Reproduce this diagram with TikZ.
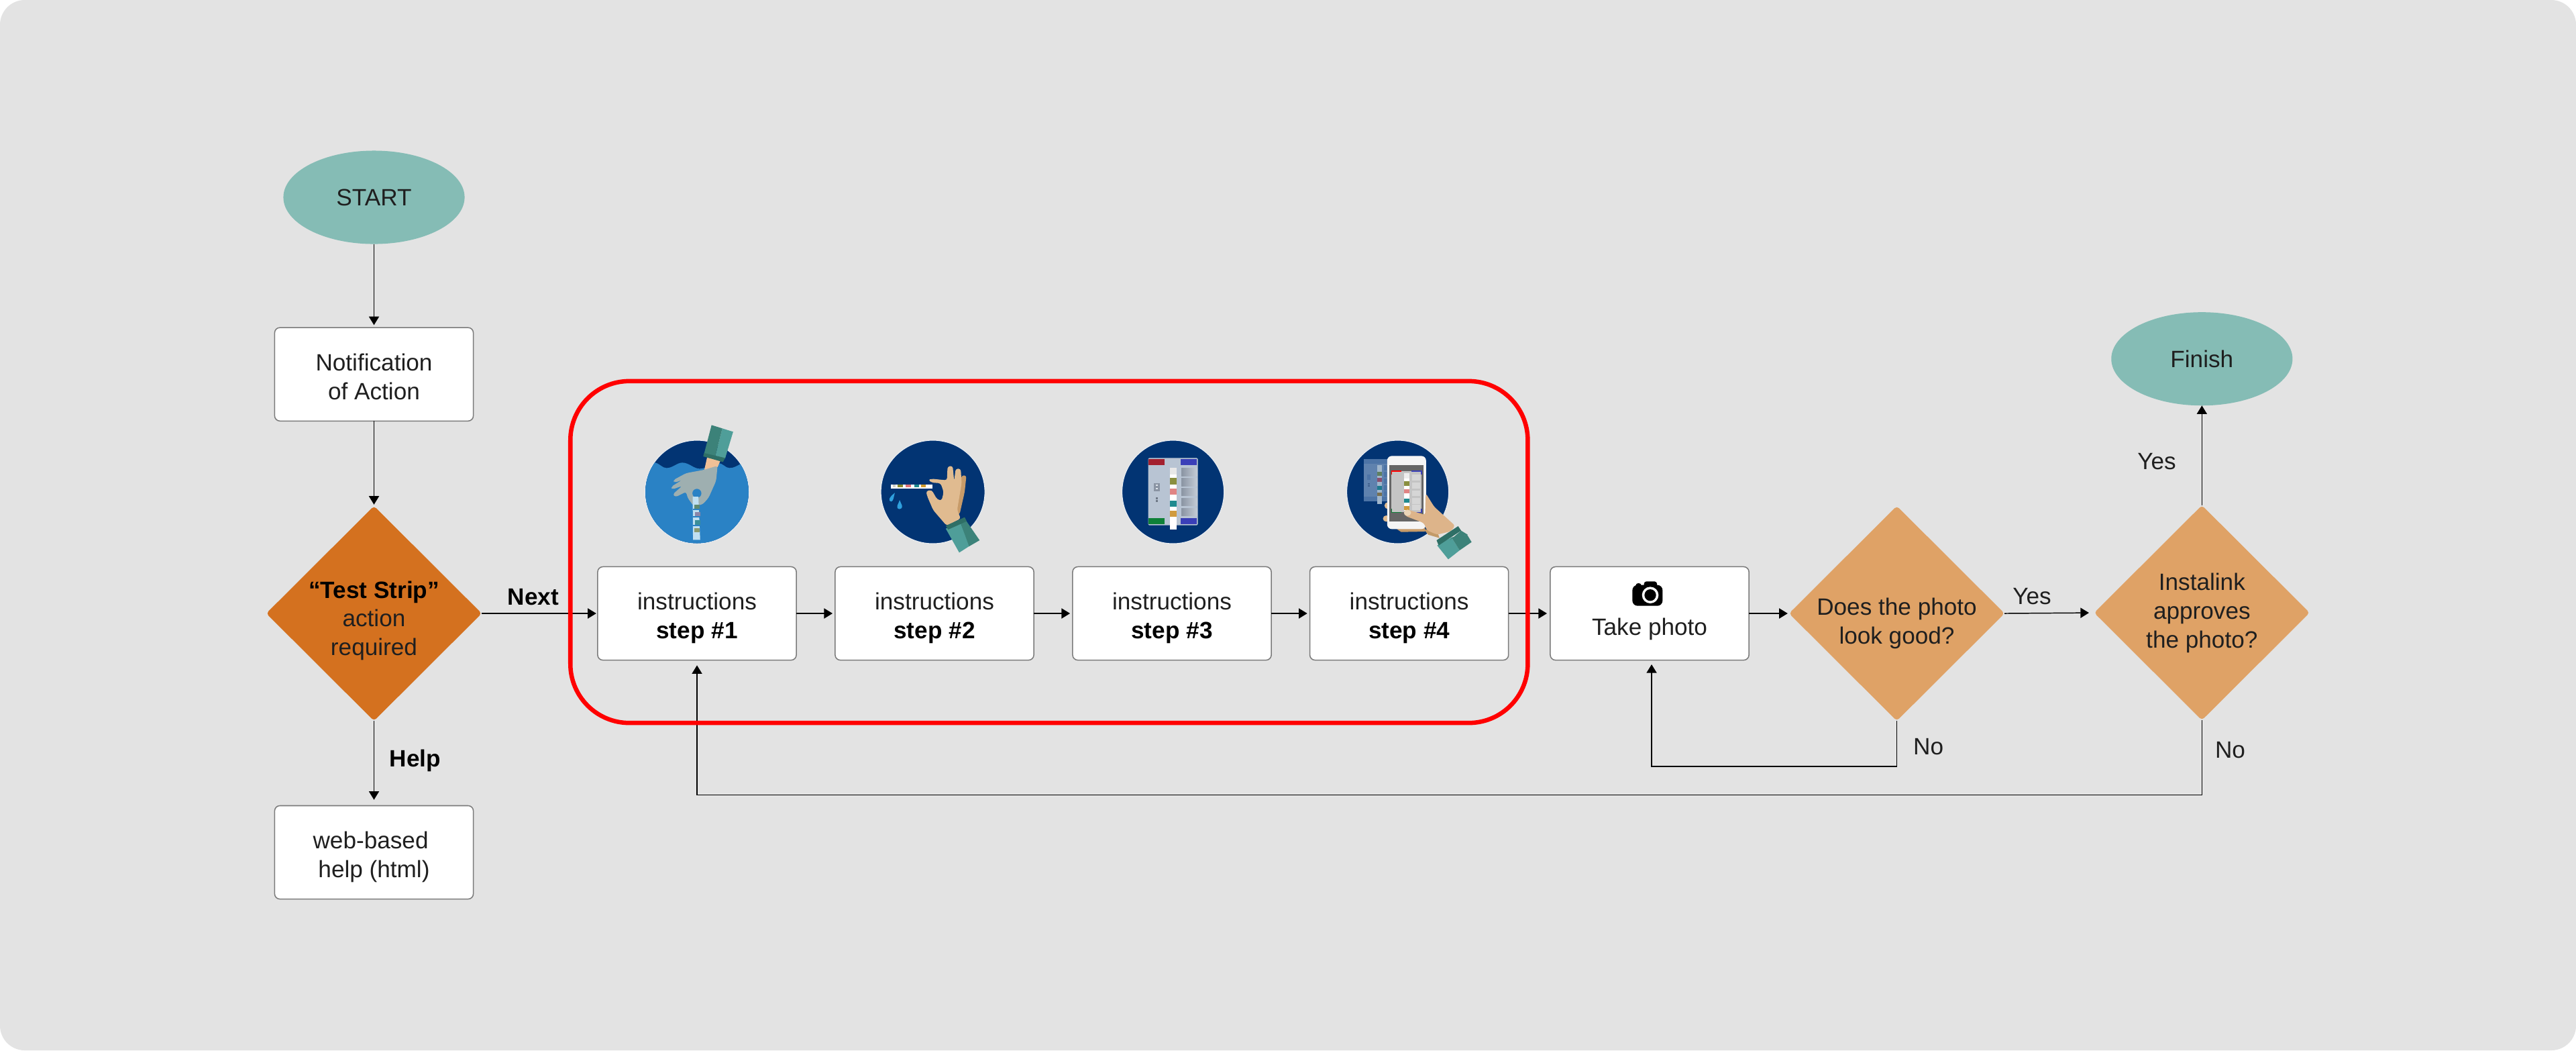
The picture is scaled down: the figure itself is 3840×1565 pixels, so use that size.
\documentclass[tikz,border=0pt]{standalone}
\usepackage{fontspec}
\setmainfont{Liberation Sans}
\usetikzlibrary{arrows.meta,shapes.geometric}
\definecolor{bgg}{HTML}{E3E3E3}
\definecolor{teal1}{HTML}{85BCB5}
\definecolor{org1}{HTML}{D4711F}
\definecolor{org2}{HTML}{DFA266}
\definecolor{navy}{HTML}{023473}
\definecolor{water}{HTML}{2A82C5}
\definecolor{slA}{HTML}{4F9E99}
\definecolor{slB}{HTML}{3C8279}
\definecolor{slC}{HTML}{2F6F66}
\definecolor{skin}{HTML}{E0BB90}
\definecolor{skinD}{HTML}{C79B69}
\definecolor{shA}{HTML}{8A94A3}
\definecolor{shB}{HTML}{C4CCD6}
\newcommand{\lift}[1]{\rule{0pt}{#1}}
\tikzset{
  HTML/.code={\definecolor{tmpc}{HTML}{#1}\pgfkeysalso{/tikz/color=tmpc}},
  txt/.style={font=\fontsize{10}{12.2}\selectfont,align=center,text=black!88,inner sep=0pt,outer sep=0pt},
  boxn/.style={txt,draw=black!52,line width=.43pt,fill=white,rounded corners=2.2pt,minimum width=2.96cm,minimum height=1.39cm},
  term/.style={txt,ellipse,fill=teal1,minimum width=2.7cm,minimum height=1.39cm},
  dec/.style={txt,diamond,aspect=1,fill=org2,rounded corners=1.3pt,inner sep=-10pt,minimum width=3.21cm,minimum height=3.2cm},
  conn/.style={line width=.42pt,draw=black,-{Triangle[length=3.6pt,width=4.3pt]},shorten >=1.1pt},
  lbl/.style={txt,anchor=base},
  zoomA/.style={shift={(900,620)},xscale=0.44643,yscale=0.33333},
  zoomB/.style={shift={(1620,620)},xscale=0.44643,yscale=0.33333},
  disc/.style={fill=navy,draw=white!92!navy,line width=.3pt}
}
\begin{document}
\begin{tikzpicture}[x=0.01cm,y=-0.01cm]
\useasboundingbox (0,0) rectangle (3840,1565);
\fill[white] (0,0) rectangle (3840,1565);
\fill[bgg,rounded corners=10.5pt] (0,0) rectangle (3840,1565);

% nodes
\node[term] (start) at (557.5,294) {START};
\node[boxn] (notif) at (557.5,557.7) {\lift{9.6pt}Notification\\of Action};
\node[dec,fill=org1] (d1) at (557.5,914) {\lift{13.4pt}\bfseries\color{black}“Test Strip”\\action\\required};
\node[boxn] (help) at (557.5,1270) {\lift{11.2pt}web-based\kern2.8pt\\help (html)};
\node[boxn] (s1) at (1039,914) {\lift{11.2pt}instructions\\\bfseries\color{black}step \#1};
\node[boxn] (s2) at (1393,914) {\lift{11.2pt}instructions\\\bfseries\color{black}step \#2};
\node[boxn] (s3) at (1747,914) {\lift{11.2pt}instructions\\\bfseries\color{black}step \#3};
\node[boxn] (s4) at (2100.6,914) {\lift{11.2pt}instructions\\\bfseries\color{black}step \#4};
\node[boxn] (take) at (2459,914) {\lift{20.3pt}Take photo};
\node[dec] (d2) at (2827.5,914) {\lift{15.8pt}Does the photo\\look good?};
\node[dec] (d3) at (3282.3,913) {Instalink\\approves\\the photo?};
\node[term] (finish) at (3282.3,534.7) {Finish};

\coordinate (c1) at (2827.5,1142);
\coordinate (c2) at (3282.3,1184.7);
\coordinate (c3) at (2462,984);

% connectors
\draw[conn] (start.south) -- (notif.north);
\draw[conn,shorten >=.6pt] (notif.south) -- (d1.north);
\draw[conn,shorten >=2.5pt] (d1.south) -- (help.north);
\draw[conn,shorten >=.6pt] (d1.east) -- (s1.west);
\draw[conn] (s1.east) -- (s2.west);
\draw[conn] (s2.east) -- (s3.west);
\draw[conn] (s3.east) -- (s4.west);
\draw[conn,shorten >=1.4pt] (s4.east) -- (take.west);
\draw[conn,shorten >=.6pt] (take.east) -- (d2.west);
\draw[conn,shorten >=2.2pt] (d2.east) -- (d3.west);
\draw[conn,shorten >=0pt] (d3.north) -- (finish.south);
\draw[conn,shorten >=1.7pt] (d2.south) -- (c1) -| (c3);
\draw[conn,shorten >=2.2pt] (d3.south) -- (c2) -| (s1.south);

% red frame
\node[draw=red,line width=1.85pt,rounded corners=25pt,minimum width=14.263cm,minimum height=5.09cm,inner sep=0pt] (frame) at (1563.8,822.5) {};

% edge labels
\node[lbl] (next) at (795,901) {\bfseries\color{black}Next};
\node[lbl] (helpl) at (619,1142) {\bfseries\color{black}Help};
\node[lbl] (yes1) at (3029,900) {Yes};
\node[lbl] (no1) at (2874.6,1124) {No};
\node[lbl] (no2) at (3324.5,1129) {No};
\node[lbl] (yes2) at (3215,699) {Yes};

% ---------- icon 1
\fill[disc] (1039,733) ellipse [x radius=77.5,y radius=77];
\begin{scope}
\clip (1039,733) ellipse [x radius=77,y radius=76.5];
\begin{scope}[zoomA]
\fill[water] (120,205) -- (172,208) .. controls (190,215) and (195,232) .. (210,232) .. controls (230,232) and (245,208) .. (262,208) .. controls (285,208) and (300,235) .. (320,235) .. controls (345,235) and (360,210) .. (380,210) .. controls (400,210) and (405,232) .. (420,232) .. controls (435,232) and (445,222) .. (455,215) -- (500,205) -- (500,600) -- (120,600) -- cycle;
\end{scope}
\end{scope}
\begin{scope}[zoomA]
\fill[HTML=F0C096] (345,185) -- (390,198) -- (380,228) -- (335,245) -- cycle;
\fill[HTML=9EAFB0,rounded corners=1pt] (380,222) -- (375,290) -- (350,365) -- (330,395) -- (300,402) -- (280,365) -- (275,338) -- (240,362) -- (230,350) -- (262,312) -- (228,328) -- (225,316) -- (262,285) -- (236,298) -- (232,286) -- (275,255) -- (335,240) -- cycle;
\fill[water] (311,345) ellipse [x radius=15,y radius=20];
\fill[HTML=BFE0F2] (297,360) -- (316,360) -- (322,553) -- (298,553) -- cycle;
\fill[HTML=BFE0F2] (298,362) rectangle (316,395);
\fill[HTML=5F8A70] (302,395) rectangle (320,415);
\fill[HTML=8C86A8] (304,430) rectangle (322,448);
\fill[HTML=3C8F98] (304,465) rectangle (322,485);
\fill[HTML=8A9A70] (302,500) rectangle (320,518);
\fill[water] (298,415) rectangle (322,420);
\fill[water] (298,448) rectangle (322,452);
\fill[water] (298,485) rectangle (322,492);
\fill[slA] (396,55) -- (432,70) -- (405,190) -- (372,180) -- cycle;
\fill[slB] (360,40) -- (396,55) -- (372,180) -- (335,168) -- cycle;
\fill[slC] (335,165) -- (405,187) -- (398,205) -- (332,180) -- cycle;
\end{scope}

% ---------- icon 2
\fill[disc] (1390.6,733) ellipse [x radius=77.5,y radius=77];
\begin{scope}[zoomA]
\fill[white] (958,305) rectangle (1097,323);
\fill[HTML=D0CFC8] (965,305) rectangle (975,317);
\fill[HTML=8A8A2E] (982,305) rectangle (998,317);
\fill[HTML=E0737A] (1008,305) rectangle (1025,317);
\fill[HTML=1F8A8F] (1036,305) rectangle (1052,317);
\fill[HTML=D09B2E] (1060,305) rectangle (1076,317);
\fill[HTML=2FA0DE] (972,343) .. controls (968,360) and (968,380) .. (960,382) .. controls (950,380) and (950,365) .. cycle;
\fill[HTML=2FA0DE] (988,375) .. controls (992,390) and (998,400) .. (996,408) .. controls (992,418) and (982,418) .. (980,408) .. controls (978,400) and (985,390) .. cycle;
\fill[skinD,rounded corners=1pt] (1195,265) -- (1211,265) -- (1205,340) -- (1188,440) -- (1170,440) -- cycle;
\fill[skin,rounded corners=1pt] (1145,490) -- (1100,420) -- (1080,358) -- (1076,335) -- (1095,330) -- (1113,372) -- (1128,378) -- (1135,340) -- (1125,300) -- (1095,297) -- (1083,285) -- (1095,280) -- (1146,287) -- (1148,225) -- (1165,222) -- (1170,290) -- (1175,235) -- (1192,235) -- (1195,300) -- (1180,420) -- (1192,458) -- cycle;
\fill[slA] (1142,503) -- (1190,473) -- (1222,580) -- (1187,610) -- cycle;
\fill[slB] (1190,473) -- (1205,458) -- (1255,555) -- (1220,582) -- cycle;
\fill[slC] (1142,490) -- (1205,452) -- (1212,470) -- (1150,507) -- cycle;
\end{scope}

% ---------- icon 3
\fill[disc] (1748.6,733) ellipse [x radius=76,y radius=77];
\begin{scope}[zoomB]
\fill[HTML=B8C4D3,rounded corners=.6pt] (205,187) rectangle (371,488);
\fill[HTML=A3202F] (207,192) rectangle (260,218);
\fill[HTML=3A3FB8] (314,192) rectangle (368,218);
\fill[HTML=0E8038] (207,456) rectangle (260,483);
\fill[HTML=3A3FB8] (314,456) rectangle (368,483);
\foreach \a/\b in {233/268,277/312,322/356,366/400,411/446}
  \shade[left color=shA,right color=shB] (316,\a) rectangle (368,\b);
\fill[white] (278,230) rectangle (300,506);
\fill[HTML=E8E8E8] (278,230) rectangle (300,262);
\fill[HTML=8A8F40] (278,277) rectangle (300,305);
\fill[HTML=E08484] (278,323) rectangle (300,351);
\fill[HTML=1F8A8F] (278,378) rectangle (300,405);
\fill[HTML=D09B3E] (278,423) rectangle (300,451);
\fill[HTML=8A94A3] (225,300) rectangle (243,335);
\fill[HTML=DDE3EA] (231,305) rectangle (238,312);
\fill[HTML=DDE3EA] (231,320) rectangle (238,327);
\fill[HTML=6E7886] (231,362) rectangle (238,372);
\fill[HTML=6E7886] (231,376) rectangle (238,385);
\end{scope}

% ---------- icon 4
\fill[disc] (2083.6,733) ellipse [x radius=76,y radius=77];
\begin{scope}[zoomB]
\fill[HTML=5F82AE] (925,193) rectangle (1005,380);
\fill[HTML=4D74A6] (925,193) rectangle (1005,212);
\fill[HTML=4D74A6] (925,360) rectangle (1005,380);
\fill[HTML=A0B6CC] (970,218) rectangle (985,392);
\fill[HTML=5F8060] (970,248) rectangle (985,266);
\fill[HTML=8A5070] (970,277) rectangle (985,295);
\fill[HTML=1F7A8F] (970,312) rectangle (985,330);
\fill[HTML=7A7050] (970,342) rectangle (985,358);
\foreach \a in {220,250,280,310,335}
  \fill[HTML=4D74A6] (992,\a) rectangle (1003,\a+22);
\fill[HTML=4D74A6] (937,262) rectangle (947,285);
\fill[HTML=3F5F8C] (939,300) rectangle (945,306);
\fill[HTML=3F5F8C] (939,310) rectangle (945,316);
\fill[skin] (1005,400) ellipse [x radius=11,y radius=15];
\fill[skin] (1000,458) ellipse [x radius=11,y radius=14];
\fill[skinD] (1035,505) -- (1130,500) -- (1130,516) -- (1050,518) -- cycle;
\fill[HTML=F5F5F5,rounded corners=2pt] (1003,178) rectangle (1133,505);
\fill[HTML=666666] (1011,218) rectangle (1124,470);
\fill[HTML=C4C4C4] (1018,245) rectangle (1118,430);
\draw[red,line width=.4pt] (1018,262) -- (1018,246) -- (1050,246);
\draw[HTML=3A3FB8,line width=.4pt] (1085,246) -- (1118,246) -- (1118,262);
\draw[HTML=0E8038,line width=.4pt] (1018,415) -- (1018,430) -- (1050,430);
\draw[HTML=3A3FB8,line width=.4pt] (1085,430) -- (1118,430) -- (1118,415);
\foreach \a in {262,297,332,367,395}
  \fill[HTML=D6D6D6] (1086,\a) rectangle (1114,\a+26);
\fill[white] (1060,255) rectangle (1078,422);
\fill[HTML=EDEDED] (1060,255) rectangle (1078,280);
\fill[HTML=8A8F40] (1060,292) rectangle (1078,312);
\fill[HTML=E08484] (1060,326) rectangle (1078,346);
\fill[HTML=1F8A8F] (1060,368) rectangle (1078,388);
\fill[HTML=D09B3E] (1060,403) rectangle (1078,420);
\fill[HTML=C39A68] (1125,505) -- (1170,515) -- (1178,545) -- (1140,530) -- cycle;
\fill[HTML=DDB48A,rounded corners=1pt] (1132,345) -- (1160,405) -- (1230,490) -- (1215,515) -- (1170,530) -- (1135,510) -- (1126,478) -- (1065,447) -- (1056,430) -- (1070,417) -- (1130,442) -- cycle;
\fill[HTML=EAD5B8] (1071,432) ellipse [x radius=12,y radius=14];
\fill[slA] (1170,578) -- (1218,542) -- (1245,600) -- (1207,640) -- cycle;
\fill[slB] (1218,542) -- (1270,530) -- (1285,563) -- (1245,600) -- cycle;
\fill[slC] (1168,555) -- (1240,492) -- (1250,512) -- (1175,578) -- cycle;
\fill[slB] (1250,512) -- (1272,530) -- (1218,545) -- (1212,555) -- cycle;
\end{scope}

% ---------- camera
\begin{scope}[shift={(2280,820)},scale=.33333]
\fill[black,rounded corners=2.2pt] (460,155) rectangle (595,248);
\fill[black,rounded corners=1pt] (512,139) rectangle (570,170);
\fill[black,rounded corners=1pt] (475,147) rectangle (500,170);
\fill[white] (540,200) circle [radius=37];
\fill[black] (540,200) circle [radius=26];
\end{scope}
\end{tikzpicture}
\end{document}
